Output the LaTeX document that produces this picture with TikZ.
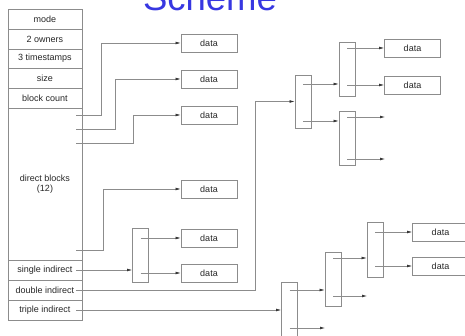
\documentclass[tikz,border=0pt]{standalone}
\usepackage{fontspec}
\setmainfont{Liberation Sans}
\usetikzlibrary{arrows.meta}
\definecolor{ttl}{RGB}{55,55,225}
\definecolor{ln}{RGB}{140,140,140}
\begin{document}
\begin{tikzpicture}[x=1pt,y=-1pt,
  every node/.style={font=\fontsize{9}{10.5}\selectfont, text=black!85},
  cell/.style={draw=ln, line width=0.7pt, minimum width=74pt, inner sep=0pt, align=center},
  databox/.style={draw=ln, line width=0.7pt, minimum width=56pt, minimum height=18pt, inner sep=0pt},
  blk/.style={draw=ln, line width=0.7pt, minimum width=16pt, minimum height=54pt, inner sep=0pt},
  arr/.style={draw=ln, line width=0.6pt, -{Latex[length=5pt,width=2.8pt,color=black!80]}},
  ]
\useasboundingbox (0,0) rectangle (465,336);
\clip (0,0) rectangle (465,336);

% title (cut at top)
\node[anchor=base, font=\fontsize{36.5}{40}\selectfont, text=ttl, inner sep=0pt] (title) at (210,11) {Scheme};

% inode
\node[cell, minimum height=20pt] (mode) at (45,19) {mode};
\node[cell, minimum height=20pt] (owners) at (45,39) {2 owners};
\node[cell, minimum height=19pt] (times) at (45,58.5) {3 timestamps};
\node[cell, minimum height=20pt] (size) at (45,78) {size};
\node[cell, minimum height=20pt] (count) at (45,98) {block count};
\node[cell, minimum height=152pt] (direct) at (45,184) {direct blocks\\(12)};
\node[cell, minimum height=20pt] (single) at (45,270) {single indirect};
\node[cell, minimum height=20pt] (double) at (45,290) {double indirect};
\node[cell, minimum height=20pt] (triple) at (45,310) {triple indirect};

% data boxes
\node[databox] (d1) at (209,43) {data};
\node[databox] (d2) at (209,79) {data};
\node[databox] (d3) at (209,115) {data};
\node[databox] (d4) at (209,189) {data};
\node[databox] (d5) at (209,238) {data};
\node[databox] (d6) at (209,273) {data};
\node[databox] (da1) at (412.5,48) {data};
\node[databox] (da2) at (412.5,85) {data};
\node[databox] (dt1) at (440.5,232) {data};
\node[databox] (dt2) at (440.5,266) {data};

% indirect blocks
\node[blk] (S1) at (140.5,255) {};
\node[blk, minimum height=53pt] (D1) at (303,101.5) {};
\node[blk] (D2a) at (347,69) {};
\node[blk] (D2b) at (347,138) {};
\node[blk, minimum height=56pt] (T1) at (289.5,310) {};
\node[blk] (T2) at (333,279) {};
\node[blk, minimum height=55pt] (T3) at (375,249.5) {};

% pointer start points inside the inode
\coordinate (p1) at (76,115);
\coordinate (p2) at (76,129);
\coordinate (p3) at (76,143);
\coordinate (p4) at (76,250);
\coordinate (ps) at (76,270);
\coordinate (pd) at (76,290);
\coordinate (pt) at (76,310);

% arrow levels
\coordinate (l1) at (0,84);
\coordinate (l2) at (0,121);
\coordinate (l3) at (0,117);
\coordinate (l4) at (0,159);
\coordinate (l5) at (0,290);
\coordinate (l6) at (0,328);
\coordinate (l7) at (0,258);
\coordinate (l8) at (0,296);
% free arrow ends
\coordinate (e1) at (385,117);
\coordinate (e2) at (385,159);
\coordinate (e3) at (325,328);
\coordinate (e4) at (367,296);

% direct pointers
\draw[arr] (p1) -- ++(25,0) |- (d1.west);
\draw[arr] (p2) -- ++(39,0) |- (d2.west);
\draw[arr] (p3) -- ++(57,0) |- (d3.west);
\draw[arr] (p4) -- ++(27,0) |- (d4.west);

% single indirect
\draw[arr] (ps) -- (S1.west |- ps);
\draw[arr] (S1.center |- d5) -- (d5.west);
\draw[arr] (S1.center |- d6) -- (d6.west);

% double indirect
\draw[arr] (pd) -- ++(179,0) |- (D1.west);
\draw[arr] (D1.center |- l1) -- (D2a.west |- l1);
\draw[arr] (D1.center |- l2) -- (D2b.west |- l2);
\draw[arr] (D2a.center |- da1) -- (da1.west);
\draw[arr] (D2a.center |- da2) -- (da2.west);
\draw[arr] (D2b.center |- l3) -- (e1);
\draw[arr] (D2b.center |- l4) -- (e2);

% triple indirect
\draw[arr] (pt) -- (T1.west);
\draw[arr] (T1.center |- l5) -- (T2.west |- l5);
\draw[arr] (T1.center |- l6) -- (e3);
\draw[arr] (T2.center |- l7) -- (T3.west |- l7);
\draw[arr] (T2.center |- l8) -- (e4);
\draw[arr] (T3.center |- dt1) -- (dt1.west);
\draw[arr] (T3.center |- dt2) -- (dt2.west);
\end{tikzpicture}
\end{document}
